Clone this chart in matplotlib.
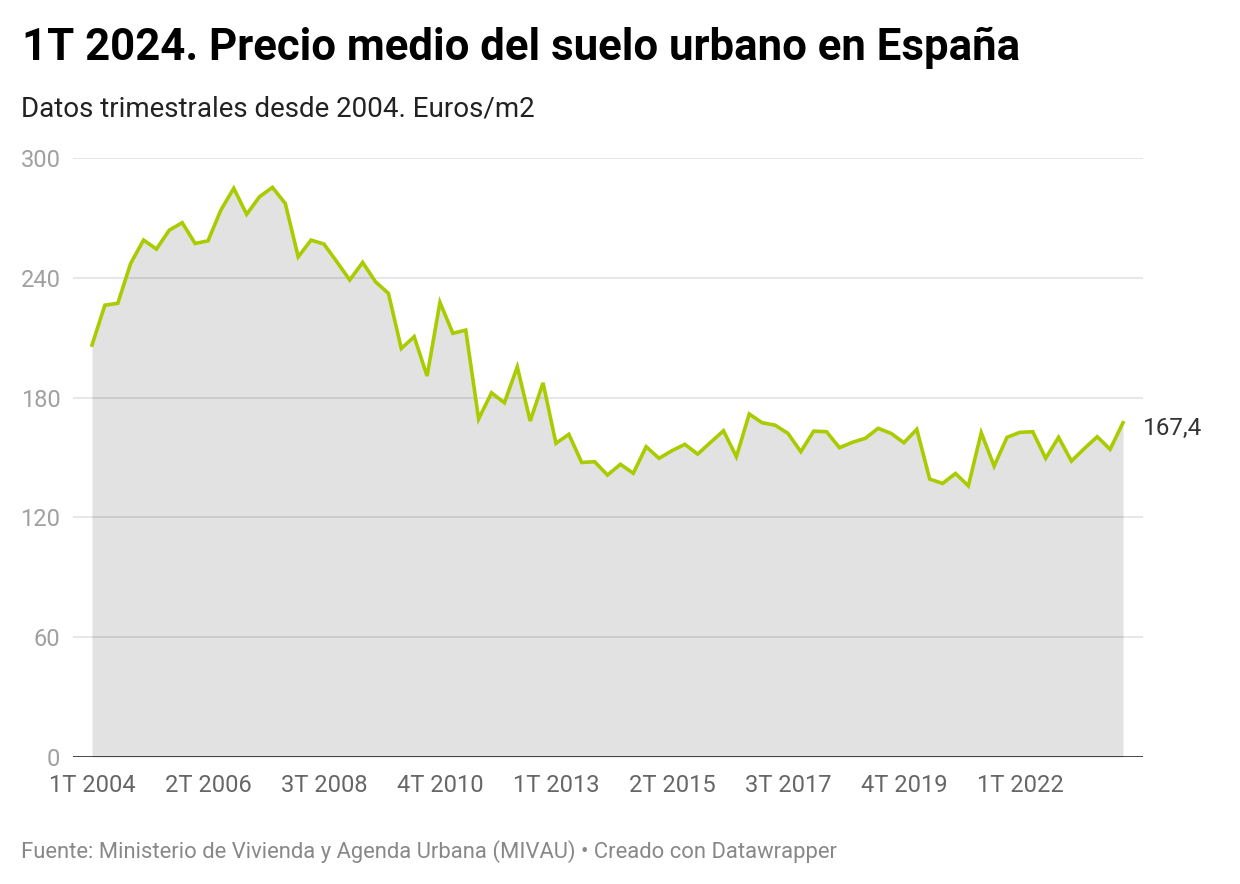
import matplotlib
matplotlib.use("Agg")
import matplotlib.pyplot as plt

# ---- data ----
quarters = [f"{q}T {y}" for y in range(2004, 2025) for q in range(1, 5)][:81]
precio = [
    206.3, 226.3, 227.2, 247.2, 258.9, 254.4, 263.9, 267.6, 257.2, 258.5,
    273.9, 284.8, 271.8, 280.6, 285.3, 277.2, 250.5, 258.9, 256.9, 248.0,
    238.9, 247.7, 238.0, 232.2, 204.6, 210.5, 190.8, 227.7, 212.2, 213.8,
    169.3, 182.4, 177.4, 195.4, 168.3, 187.4, 157.1, 161.6, 147.5, 147.9,
    141.2, 146.6, 142.1, 155.4, 149.6, 153.4, 156.6, 151.7, 157.6, 163.4,
    150.4, 171.8, 167.4, 166.2, 162.1, 152.9, 163.2, 162.9, 154.9, 157.6,
    159.6, 164.6, 162.1, 157.4, 164.1, 139.2, 137.0, 142.0, 135.8, 162.4,
    145.7, 160.1, 162.6, 162.9, 149.6, 160.1, 148.2, 154.5, 160.4, 154.1,
    167.4,
]
xtick_labels = ["1T 2004", "2T 2006", "3T 2008", "4T 2010", "1T 2013",
                "2T 2015", "3T 2017", "4T 2019", "1T 2022"]
ytick_values = [0, 60, 120, 180, 240, 300]
last_label = "167,4"

title = "1T 2024. Precio medio del suelo urbano en España"
subtitle = "Datos trimestrales desde 2004. Euros/m2"
footer = "Fuente: Ministerio de Vivienda y Agenda Urbana (MIVAU) • Creado con Datawrapper"

# ---- style ----
plt.rcParams['font.family'] = ['Roboto', 'DejaVu Sans']
W, H = 1240, 884
LINE = '#a8cc00'
FILL = '#e2e2e2'

fig = plt.figure(figsize=(W / 100, H / 100), dpi=100)
ax = fig.add_axes([73 / W, (H - 757) / H, (1143 - 73) / W, (757 - 158) / H])

x = list(range(len(precio)))
ax.fill_between(x, precio, 0, color=FILL, lw=0, zorder=1)
for yv in ytick_values[1:]:
    ax.axhline(yv, color='black', alpha=0.1, lw=1.3, zorder=2)
ax.plot(x, precio, color=LINE, lw=2.6, solid_joinstyle='miter', zorder=3)
ax.axhline(0, color='#111111', lw=1.8, zorder=4)

px_per_q = (1123 - 92) / 80
ax.set_xlim(-(92 - 73) / px_per_q, 80 + (1143 - 1123) / px_per_q)
ax.set_ylim(0, 300)

for s in ax.spines.values():
    s.set_visible(False)

xt = [quarters.index(l) for l in xtick_labels]
ax.set_xticks(xt)
ax.set_xticklabels(xtick_labels)
ax.set_yticks(ytick_values)
ax.set_yticklabels([str(v) for v in ytick_values])
ax.tick_params(axis='x', length=0, pad=12, labelsize=17, labelcolor='#666666')
ax.tick_params(axis='y', length=0, pad=9, labelsize=17, labelcolor='#a0a0a0')
for t in ax.get_yticklabels():
    t.set_horizontalalignment('right')

ax.annotate(last_label, xy=(x[-1], precio[-1]), xytext=(14, -4),
            textcoords='offset points', fontsize=17.5, color='#333333',
            va='center', ha='left', annotation_clip=False)

fig.text(22 / W, 1 - 60 / H, title, fontsize=31.5, fontweight='bold',
         color='#000000', va='baseline', ha='left')
fig.text(21 / W, 1 - 117 / H, subtitle, fontsize=20.0, color='#222222',
         va='baseline', ha='left')
fig.text(21 / W, 1 - 858 / H, footer, fontsize=15.85, color='#888888',
         va='baseline', ha='left')

fig.savefig('out.png', dpi=100, facecolor='white')
